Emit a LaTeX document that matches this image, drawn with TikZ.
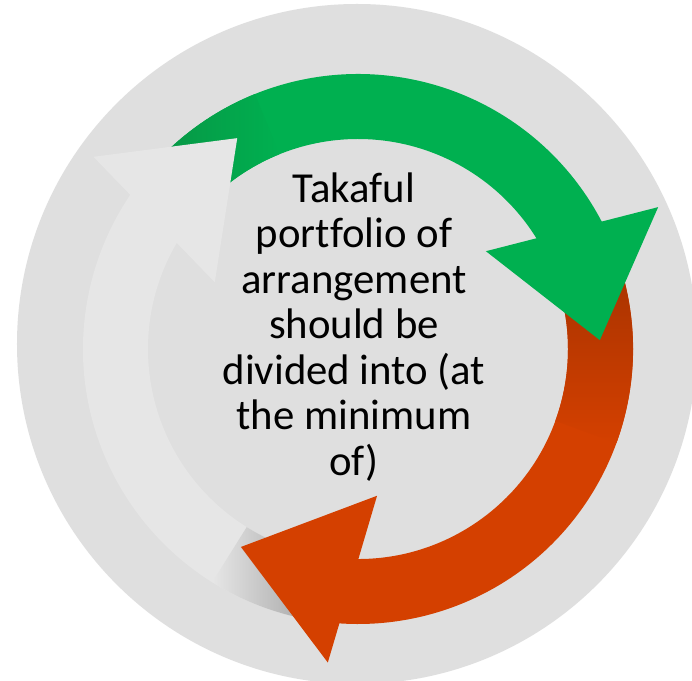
\documentclass[tikz,border=0pt]{standalone}
\usepackage{fontspec}
\setmainfont{Carlito}[Ligatures=NoCommon]

\definecolor{discgrey}{RGB}{223,223,223}
\definecolor{arrowgrey}{RGB}{230,230,230}
\definecolor{shadowgrey}{RGB}{160,160,160}
\definecolor{cyclegreen}{RGB}{0,176,80}
\definecolor{darkgreen}{RGB}{8,148,68}
\definecolor{cycleorange}{RGB}{212,64,0}
\definecolor{darkorange}{RGB}{165,50,0}

\begin{document}
\begin{tikzpicture}[scale=0.025]
\useasboundingbox (-358,-331) rectangle (334,349);
\fill[white] (-358,-331) rectangle (334,349);
%%%% Disc:
\fill[discgrey] (-1,5) circle (340);

%%%% Bands, tail to shoulder (inner radius 210, outer 275)
\fill[arrowgrey] (260:275) arc[start angle=260, end angle=144, radius=275]
  -- (144:210) arc[start angle=144, end angle=260, radius=210] -- cycle;
\shade[left color=arrowgrey, right color=shadowgrey] (260:275) arc[start angle=260, end angle=238, radius=275]
  -- (238:210) arc[start angle=238, end angle=260, radius=210] -- cycle;

\fill[cyclegreen] (140:275) arc[start angle=140, end angle=26, radius=275]
  -- (26:210) arc[start angle=26, end angle=140, radius=210] -- cycle;
\shade[left color=darkgreen, right color=cyclegreen] (140:275) arc[start angle=140, end angle=112, radius=275]
  -- (112:210) arc[start angle=112, end angle=140, radius=210] -- cycle;

\fill[cycleorange] (20:275) arc[start angle=20, end angle=-97, radius=275]
  -- (-97:210) arc[start angle=-97, end angle=20, radius=210] -- cycle;
\shade[top color=darkorange, bottom color=cycleorange] (20:275) arc[start angle=20, end angle=-20, radius=275]
  -- (-20:210) arc[start angle=-20, end angle=20, radius=210] -- cycle;

%%%% Heads (each one covers the tail of the next band)
\fill[cyclegreen] (2.1:242) -- (25.3:332) -- (37.4:161) -- cycle;
\fill[cycleorange] (-120.6:230) -- (-95.5:315) -- (-82.6:148) -- cycle;
\fill[arrowgrey] (119.8:243) -- (144:327) -- (155:158) -- cycle;

%%%% Centre text
\node[align=center, font=\fontsize{30.4}{32.4}\selectfont] (title) at (-4,22)
  {Takaful\\portfolio of\\arrangement\\should be\\divided into (at\\the minimum\\of)};
\end{tikzpicture}
\end{document}
